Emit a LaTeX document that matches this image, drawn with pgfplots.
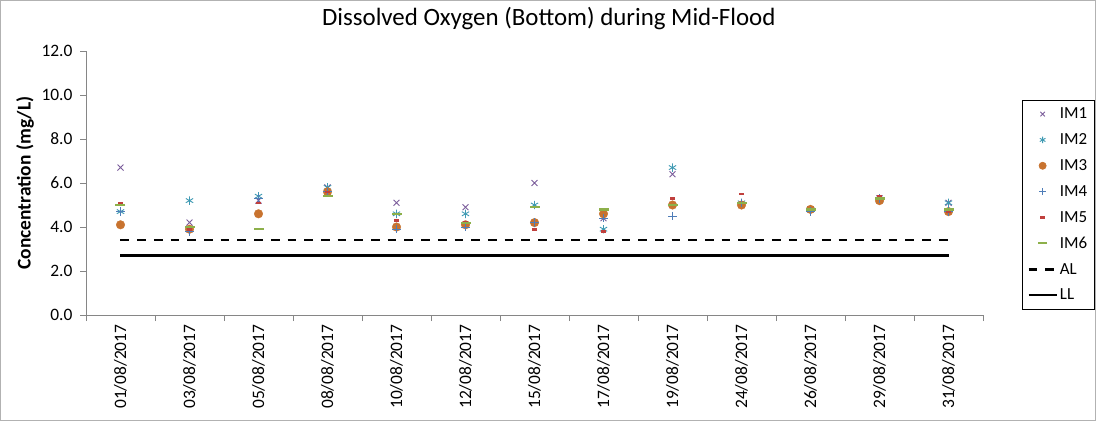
\documentclass[border=0pt]{standalone}
\usepackage{fontspec}
\setmainfont{Carlito}
\usepackage{pgfplots}
\usepackage{pgfplotstable}
\pgfplotsset{compat=1.18}
\definecolor{cIMa}{HTML}{7A5C9A}
\definecolor{cIMb}{HTML}{3F9AB3}
\definecolor{cIMc}{HTML}{C8732F}
\definecolor{cIMd}{HTML}{4F7DB8}
\definecolor{cIMe}{HTML}{C0403D}
\definecolor{cIMf}{HTML}{8DB04A}
\definecolor{axgray}{HTML}{868686}

\pgfplotstableread{
x IMa IMb IMc IMd IMe IMf
0 6.7 4.7 4.1 4.7 5.1 5.0
1 4.2 5.2 3.9 3.8 3.9 4.0
2 5.2 5.4 4.6 5.3 5.1 3.9
3 5.8 5.8 5.6 5.6 5.6 5.4
4 5.1 4.6 4.0 3.9 4.3 4.6
5 4.9 4.6 4.1 4.0 4.2 4.2
6 6.0 5.0 4.2 4.2 3.9 4.9
7 4.4 3.9 4.6 4.4 3.8 4.8
8 6.4 6.7 5.0 4.5 5.3 5.0
9 5.0 5.1 5.0 5.1 5.5 5.1
10 4.8 4.8 4.8 4.7 4.8 4.8
11 5.3 5.2 5.2 5.3 5.4 5.3
12 5.1 5.1 4.7 4.7 4.7 4.8
}\datatable

\pgfplotsset{
  mlegend/.style={legend image code/.code={\path (0bp,0bp) (28bp,0bp);
     \draw[mark repeat=2, mark phase=2, ##1, mark size=#1] plot coordinates {(0bp,0bp) (14bp,0bp) (28bp,0bp)};}},
  llegend/.style={legend image code/.code={\draw[##1] (0bp,0bp) -- (28bp,0bp);}},
}

\begin{document}
\begin{tikzpicture}
\useasboundingbox (-86bp,-106bp) rectangle (1010bp,315bp);
\draw[color=gray!60, line width=0.8bp] (-85.4bp,-105.4bp) rectangle (1009.4bp,314.4bp);
\begin{axis}[
  scale only axis, width=897bp, height=264bp,
  at={(0,0)}, anchor=south west,
  xmin=-0.5, xmax=12.5, ymin=0, ymax=12,
  axis lines*=left,
  axis line style={color=axgray, line width=0.8bp},
  tick align=outside,
  major tick length=6bp, minor tick length=6bp,
  every tick/.style={color=axgray, line width=0.8bp},
  ytick={0,2,...,12},
  /pgf/number format/assume math mode=true,
  yticklabel style={xshift=-4bp, /pgf/number format/.cd, fixed, fixed zerofill, precision=1},
  xtick={0,...,12},
  xticklabels={01/08/2017,03/08/2017,05/08/2017,08/08/2017,10/08/2017,12/08/2017,15/08/2017,17/08/2017,19/08/2017,24/08/2017,26/08/2017,29/08/2017,31/08/2017},
  major x tick style={draw=none},
  minor xtick={-0.5,0.5,...,12.5},
  xticklabel style={rotate=90, anchor=east},
  tick label style={font=\fontsize{17.5}{20}\selectfont},
  title={Dissolved Oxygen (Bottom) during Mid-Flood},
  title style={at={(0.516,1)}, anchor=base, yshift=20bp, font=\fontsize{25}{28}\selectfont},
  ylabel={\textbf{Concentration (mg/L)}},
  ylabel style={at={(axis description cs:-0.068,0.5)}, anchor=center, font=\fontsize{19.5}{22}\selectfont},
  legend style={at={(1.0435,0.814)}, anchor=north west, draw=black, line width=0.6bp,
    font=\fontsize{17}{19}\selectfont, row sep=9.4bp, inner xsep=5bp, inner ysep=5.5bp,
    /tikz/every even column/.append style={column sep=3bp}},
  legend cell align=left,
  clip=false,
]
\addplot[only marks, mlegend=3.2bp, mark=x, mark size=4.2bp, color=cIMa, line width=0.9bp] table[x=x, y=IMa] {\datatable};
\addlegendentry{IM1}
\addplot[only marks, mlegend=3.2bp, mark=asterisk, mark size=4.2bp, color=cIMb, line width=0.9bp] table[x=x, y=IMb] {\datatable};
\addlegendentry{IM2}
\addplot[only marks, mlegend=3.6bp, mark=*, mark size=4.3bp, color=cIMc, fill=cIMc] table[x=x, y=IMc] {\datatable};
\addlegendentry{IM3}
\addplot[only marks, mlegend=3.2bp, mark=+, mark size=4.2bp, color=cIMd, line width=0.9bp] table[x=x, y=IMd] {\datatable};
\addlegendentry{IM4}
\addplot[only marks, mlegend=2.3bp, mark=-, mark size=2.6bp, color=cIMe, line width=2.6bp] table[x=x, y=IMe] {\datatable};
\addlegendentry{IM5}
\addplot[only marks, mlegend=4.5bp, mark=-, mark size=5bp, color=cIMf, line width=2.2bp] table[x=x, y=IMf] {\datatable};
\addlegendentry{IM6}
\addplot[llegend, black, line width=2.4bp, dash pattern=on 8.7bp off 8bp] coordinates {(0,3.4) (12,3.4)};
\addlegendentry{AL}
\addplot[llegend, black, line width=2.4bp] coordinates {(0,2.7) (12,2.7)};
\addlegendentry{LL}
\end{axis}
\end{tikzpicture}
\end{document}
